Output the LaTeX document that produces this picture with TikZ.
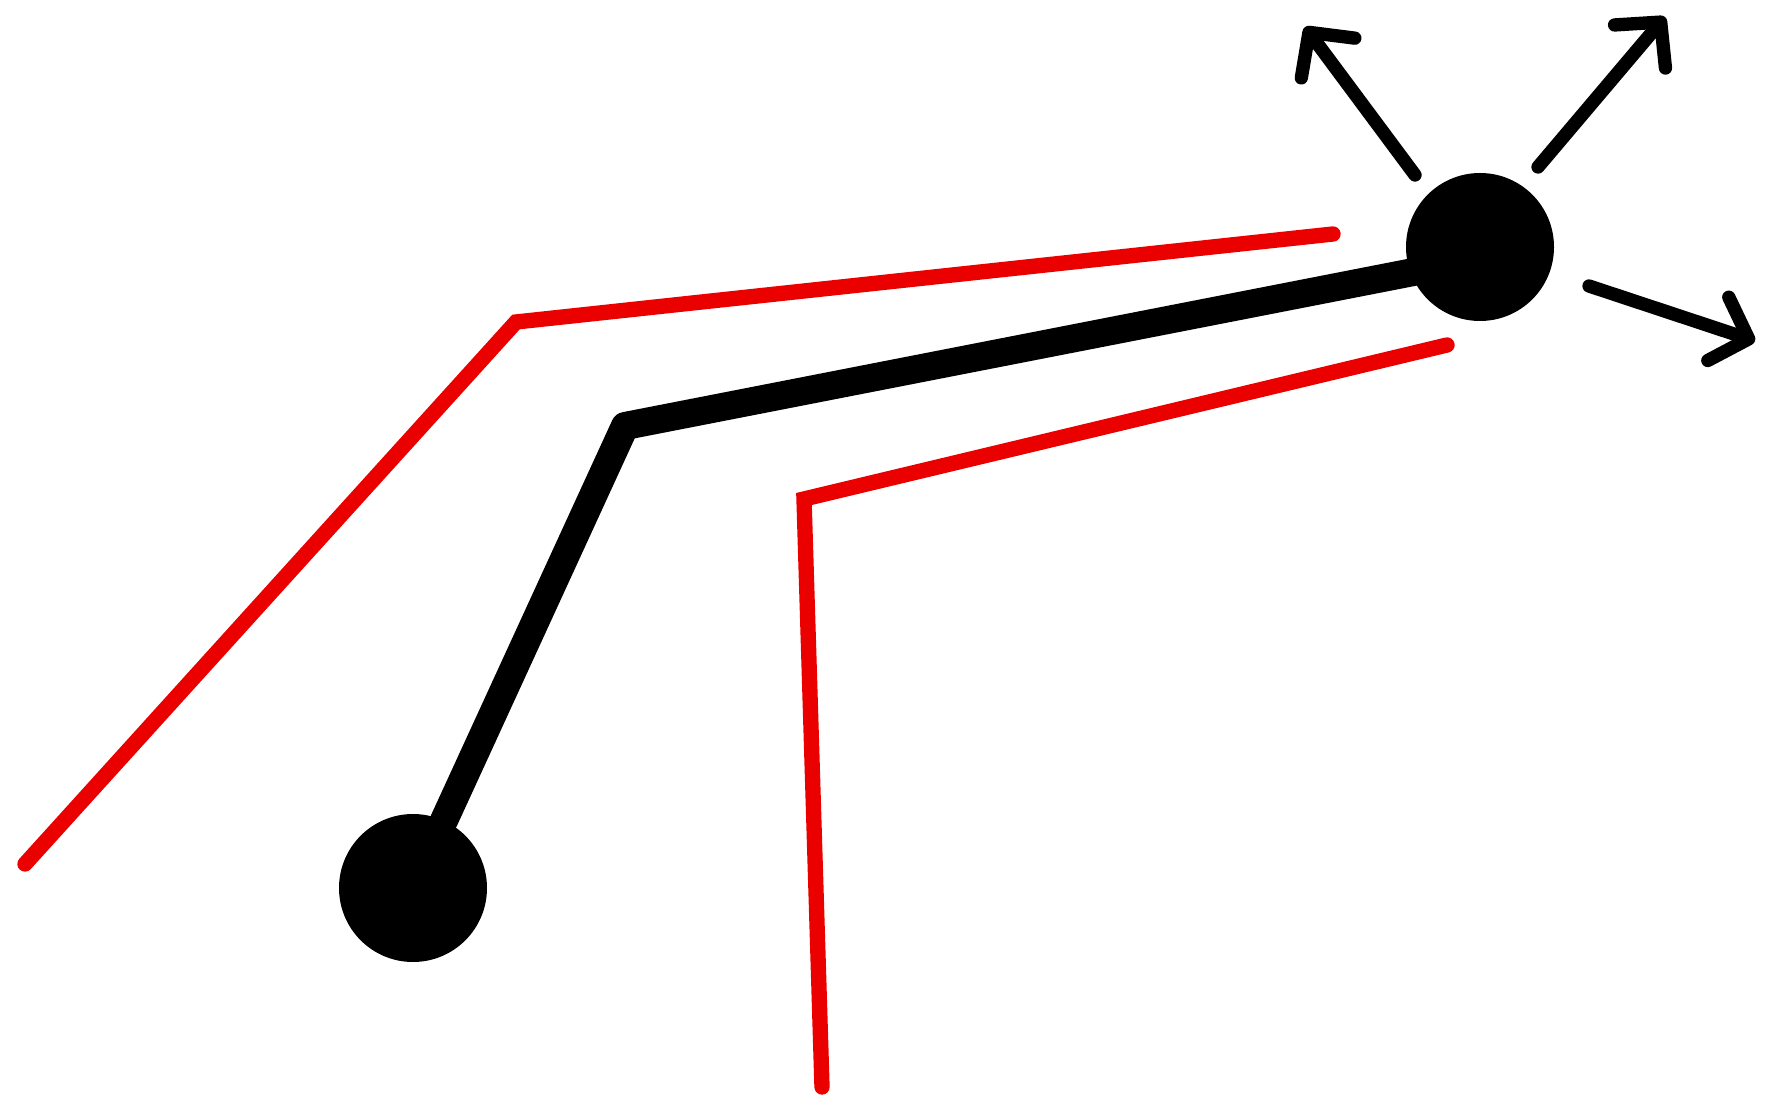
\documentclass[tikz,border=0pt]{standalone}
\usetikzlibrary{arrows.meta}

\tikzset{every picture/.style={line width=0.75pt}}
\tikzset{
  ball/.style={circle,fill=black,inner sep=0pt,minimum size=111pt},
  stem/.style={line width=21pt,line join=round,line cap=round},
  wall/.style={color={rgb, 255:red, 235; green, 0; blue, 0},line width=11.5pt,line join=miter,line cap=round},
  push/.style={line width=10pt,line cap=round,-{Straight Barb[length=24pt,width=50pt,round]}}
}

\begin{document}
\begin{tikzpicture}[x=0.75pt,y=0.75pt,yscale=-1,xscale=1]
\useasboundingbox (0,0) rectangle (1771,1112);

% Balls
\node[ball] (tip) at (413,888) {};
\node[ball] (head) at (1480,247) {};

% Bend of the stem
\coordinate (knee) at (625,426);
\draw[stem] (tip) -- (knee) -- ([yshift=9pt]head.center);

% Upper red wall
\draw[wall] (25,864) -- (516,322) -- (1333,234);
% Lower red wall
\draw[wall] (822,1087) -- (804,499) -- (1447,345);

% Arrows out of the head
\coordinate (p1) at (1415,175);
\coordinate (q1) at (1305,27);
\coordinate (p2) at (1538,167);
\coordinate (q2) at (1665,17);
\coordinate (p3) at (1589,286);
\coordinate (q3) at (1755,341);
\draw[push] (p1) -- (q1);
\draw[push] (p2) -- (q2);
\draw[push] (p3) -- (q3);

\end{tikzpicture}
\end{document}
